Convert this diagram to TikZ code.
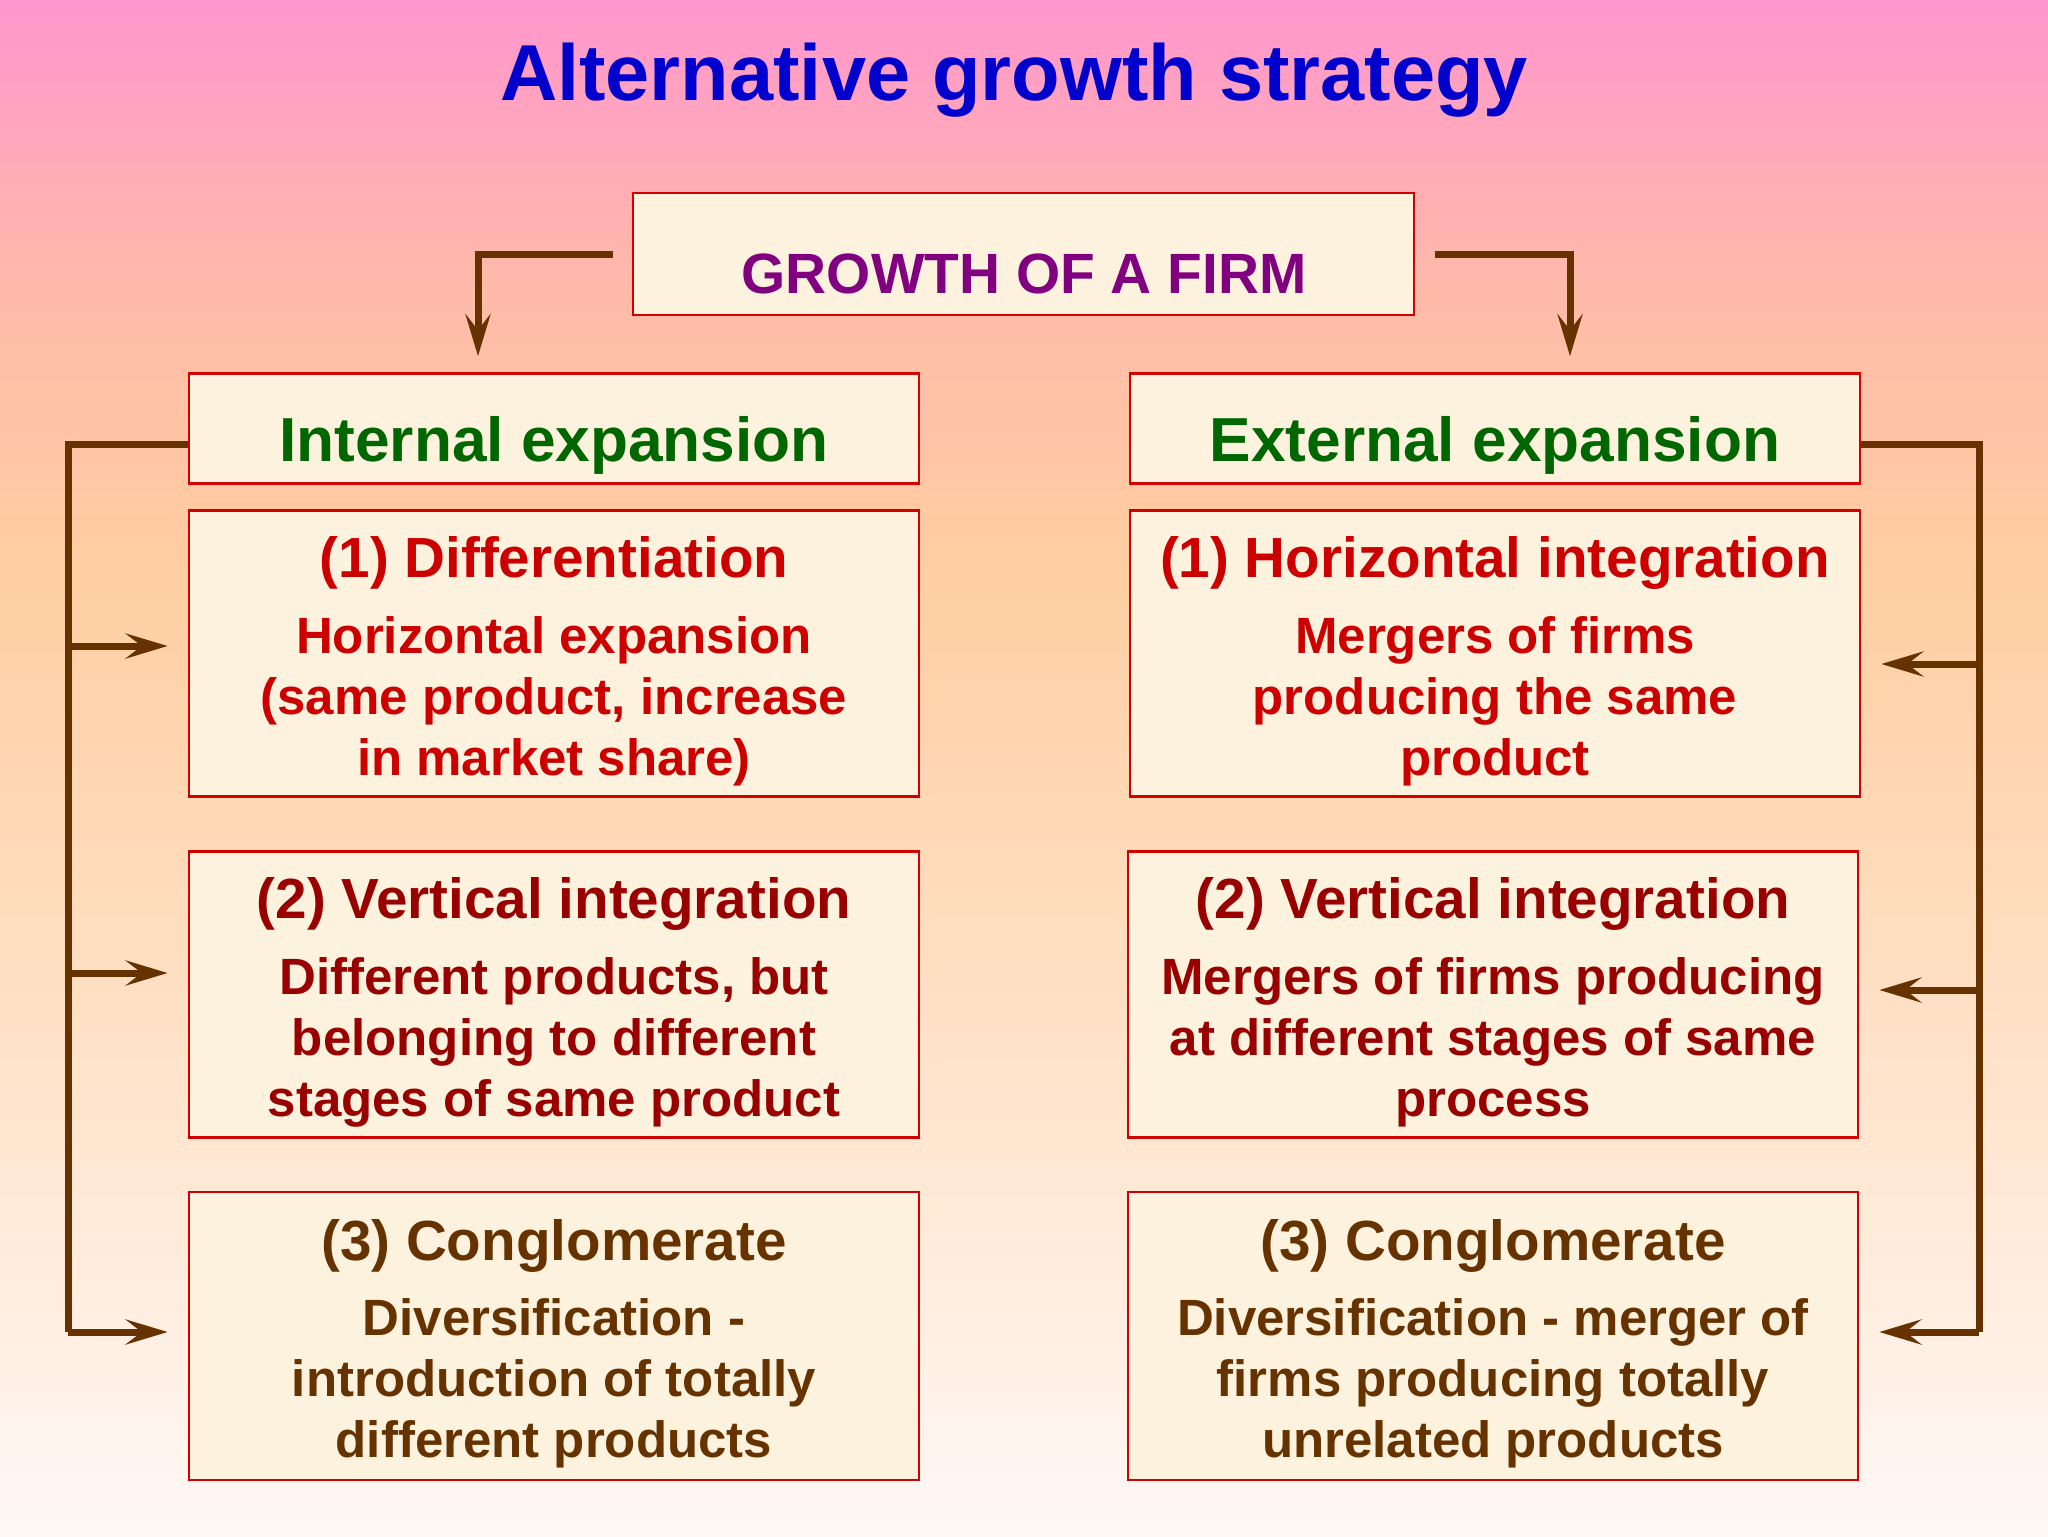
\documentclass[tikz,border=0pt]{standalone}
\usepackage{fontspec}
\setmainfont{Liberation Sans}
\usetikzlibrary{arrows.meta}
\definecolor{titleblue}{RGB}{0,0,204}
\definecolor{firmpurple}{RGB}{128,0,128}
\definecolor{expgreen}{RGB}{0,102,0}
\definecolor{redA}{RGB}{204,0,0}
\definecolor{redB}{RGB}{153,0,0}
\definecolor{brownC}{RGB}{102,51,0}
\definecolor{boxred}{RGB}{210,0,0}
\definecolor{cream}{RGB}{252,242,222}
\definecolor{lineb}{RGB}{102,51,0}
\definecolor{bgtop}{RGB}{255,150,205}
\definecolor{bgpk}{RGB}{255,185,170}
\definecolor{bgpeach}{RGB}{255,206,162}
\definecolor{bgmid}{RGB}{255,224,196}
\definecolor{bgbot}{RGB}{255,248,246}
% TikZ maps the path's box to the 25bp..75bp part of a 100bp shading
\pgfdeclareverticalshading{bgshade}{100bp}{color(0bp)=(bgbot); color(25bp)=(bgbot); color(42.5bp)=(bgmid); color(56.5bp)=(bgpeach); color(66bp)=(bgpk); color(75bp)=(bgtop); color(100bp)=(bgtop)}
\newcommand{\titlefont}{\fontsize{39.7pt}{46pt}\selectfont\bfseries}
\newcommand{\firmfont}{\fontsize{28.4pt}{34pt}\selectfont\bfseries}
\newcommand{\expfont}{\fontsize{31.1pt}{37pt}\selectfont\bfseries}
\newcommand{\headfont}{\fontsize{28.3pt}{34pt}\selectfont\bfseries}
\newcommand{\bodyfont}{\fontsize{25.5pt}{30.5pt}\selectfont\bfseries\renewcommand{\arraystretch}{1}\setlength{\tabcolsep}{0pt}}
\begin{document}
\begin{tikzpicture}[x=0.5pt,y=-0.5pt,
  boxst/.style={draw=boxred, line width=1.3pt, fill=cream, inner sep=0pt, minimum width=365pt},
  headst/.style={anchor=base, inner sep=0pt, font=\headfont},
  bodyst/.style={anchor=base, inner sep=0pt, font=\bodyfont},
  conn/.style={draw=lineb, line width=3.5pt},
  arrst/.style={conn, -{Stealth[length=21pt,width=12.5pt,inset=8pt]}, shorten >=10pt}]
\useasboundingbox (0,0) rectangle (2048,1536);
\shade[shading=bgshade] (0,0) rectangle (2048,1536);

\node[anchor=base, inner sep=0pt, font=\titlefont, text=titleblue] (title) at (1014,101) {Alternative growth strategy};

\node[boxst, minimum width=390.5pt, minimum height=61pt] (top) at (1023.5,254) {};
\node[anchor=base, inner sep=0pt, font=\firmfont, text=firmpurple] (toptxt) at (1024,293) {GROWTH OF A FIRM};

\node[boxst, minimum height=55pt] (ie) at (554,428.5) {};
\node[anchor=base, inner sep=0pt, font=\expfont, text=expgreen] (ietxt) at (554,461) {Internal expansion};
\node[boxst, minimum height=55pt] (ee) at (1495,428.5) {};
\node[anchor=base, inner sep=0pt, font=\expfont, text=expgreen] (eetxt) at (1495,461) {External expansion};

% left column
\node[boxst, minimum height=143pt] (l1) at (554,653.5) {};
\node[headst, text=redA] (l1h) at (554,577) {(1) Differentiation};
\node[bodyst, text=redA] (l1b) at (554,653) {\begin{tabular}[t]{c}Horizontal expansion\\(same product, increase\\in market share)\end{tabular}};

\node[boxst, minimum height=143pt] (l2) at (554,994.5) {};
\node[headst, text=redB] (l2h) at (554,918) {(2) Vertical integration};
\node[bodyst, text=redB] (l2b) at (554,994) {\begin{tabular}[t]{c}Different products, but\\belonging to different\\stages of same product\end{tabular}};

\node[boxst, minimum height=144pt] (l3) at (554,1336) {};
\node[headst, text=brownC] (l3h) at (554,1260) {(3) Conglomerate};
\node[bodyst, text=brownC] (l3b) at (554,1335) {\begin{tabular}[t]{c}Diversification -\\introduction of totally\\different products\end{tabular}};

% right column
\node[boxst, minimum height=143pt] (r1) at (1495,653.5) {};
\node[headst, text=redA] (r1h) at (1495,577) {(1) Horizontal integration};
\node[bodyst, text=redA] (r1b) at (1495,653) {\begin{tabular}[t]{c}Mergers of firms\\producing the same\\product\end{tabular}};

\node[boxst, minimum height=143pt] (r2) at (1493,994.5) {};
\node[headst, text=redB] (r2h) at (1493,918) {(2) Vertical integration};
\node[bodyst, text=redB] (r2b) at (1493,994) {\begin{tabular}[t]{c}Mergers of firms producing\\at different stages of same\\process\end{tabular}};

\node[boxst, minimum height=144pt] (r3) at (1493,1336) {};
\node[headst, text=brownC] (r3h) at (1493,1260) {(3) Conglomerate};
\node[bodyst, text=brownC] (r3b) at (1493,1335) {\begin{tabular}[t]{c}Diversification - merger of\\firms producing totally\\unrelated products\end{tabular}};

% top connectors
\draw[arrst, shorten >=8pt] ([xshift=-9.5pt]top.west) -| ([xshift=-38pt]ie.north);
\draw[arrst, shorten >=8pt] ([xshift=10pt]top.east) -| ([xshift=37.5pt]ee.north);

% left bracket
\coordinate (la1) at (68,646);
\coordinate (la2) at (68,973);
\coordinate (la3) at (68,1332);
\draw[conn] ([yshift=-8pt]ie.west) -| (la3);
\draw[arrst] (la1) -- (la1 -| l1.west);
\draw[arrst] (la2) -- (la2 -| l2.west);
\draw[arrst] (la3) -- (la3 -| l3.west);

% right bracket
\coordinate (ra1) at (1979,664);
\coordinate (ra2) at (1979,990);
\coordinate (ra3) at (1979,1332);
\draw[conn] ([yshift=-8pt]ee.east) -| (ra3);
\draw[arrst] (ra1) -- (ra1 -| r1.east);
\draw[arrst] (ra2) -- (ra2 -| r2.east);
\draw[arrst] (ra3) -- (ra3 -| r3.east);
\end{tikzpicture}
\end{document}
